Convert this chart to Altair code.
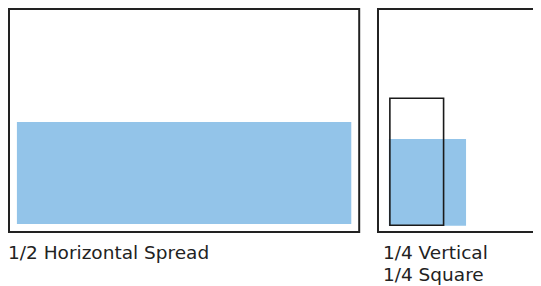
import altair as alt
import pandas as pd

# Page outlines (reference pixel units, origin at the spread's top-left corner)
outline_names = ["Spread", "Page"]
outline_x = [0, 373]
outline_x2 = [354, 550]
outline_y = [0, 0]
outline_y2 = [223, 223]

# Filled ad areas
fill_names = ["1/2 Horizontal Spread", "1/4 Square"]
fill_x = [8, 384]
fill_x2 = [346, 462]
fill_y = [113, 130]
fill_y2 = [215, 216.7]

# Outlined ad areas
line_names = ["1/4 Vertical"]
line_x = [385]
line_x2 = [439.3]
line_y = [89.3]
line_y2 = [216.3]

# Captions
label_texts = ["1/2 Horizontal Spread", "1/4 Vertical", "1/4 Square"]
label_x = [-1, 378, 378]
label_y = [249.5, 249.5, 271.5]

outlines = pd.DataFrame({"name": outline_names, "x": outline_x, "x2": outline_x2,
                         "y": outline_y, "y2": outline_y2})
fills = pd.DataFrame({"name": fill_names, "x": fill_x, "x2": fill_x2,
                      "y": fill_y, "y2": fill_y2})
lines = pd.DataFrame({"name": line_names, "x": line_x, "x2": line_x2,
                      "y": line_y, "y2": line_y2})
labels = pd.DataFrame({"text": label_texts, "x": label_x, "y": label_y})

W, H = 525, 278
xs = alt.Scale(domain=[-1.01, 529.68], nice=False, zero=False)
ys = alt.Scale(domain=[-1, H - 1], nice=False, zero=False, reverse=True)

def enc_rect():
    return dict(
        x=alt.X("x:Q", scale=xs, axis=None),
        x2="x2:Q",
        y=alt.Y("y:Q", scale=ys, axis=None),
        y2="y2:Q",
    )

frame = alt.Chart(outlines).mark_rect(
    fill=None, stroke="#222222", strokeWidth=2, clip=True
).encode(**enc_rect())

blue = alt.Chart(fills).mark_rect(fill="#93C4E9", stroke=None).encode(**enc_rect())

box = alt.Chart(lines).mark_rect(
    fill=None, stroke="#1a1a1a", strokeWidth=1.6
).encode(**enc_rect())

text = alt.Chart(labels).mark_text(
    align="left", baseline="alphabetic", font="DejaVu Sans", fontSize=18.5,
    color="#222222"
).encode(
    x=alt.X("x:Q", scale=xs, axis=None),
    y=alt.Y("y:Q", scale=ys, axis=None),
    text="text:N",
)

chart = alt.layer(blue, box, frame, text).properties(
    width=W, height=H, padding=0
).configure_view(strokeWidth=0)

chart.save("out.html", embed_options={"renderer": "svg", "actions": False})
